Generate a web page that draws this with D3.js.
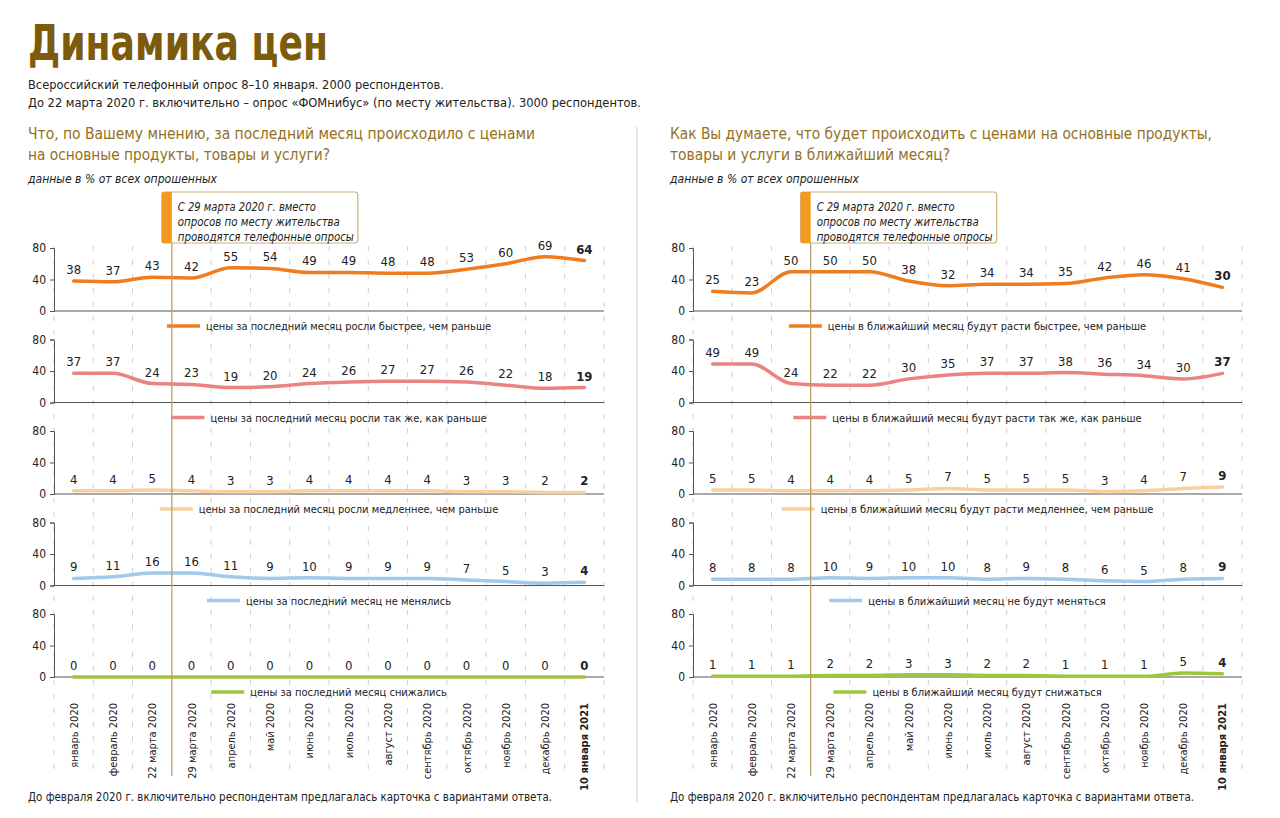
<!DOCTYPE html>
<meta charset="UTF-8">
<script src="https://cdnjs.cloudflare.com/ajax/libs/d3/7.4.4/d3.min.js"></script>
<style>
    body { margin: 0; background: #fff; }
    text { font-family: "DejaVu Sans Condensed", "Liberation Sans Narrow", sans-serif; }
</style>
<svg id="chart" width="1280" height="818"></svg>
<script>
    // данные
    let categories = ["январь 2020", "февраль 2020", "22 марта 2020", "29 марта 2020", "апрель 2020",
        "май 2020", "июнь 2020", "июль 2020", "август 2020", "сентябрь 2020", "октябрь 2020",
        "ноябрь 2020", "декабрь 2020", "10 января 2021"];

    let leftFaster    = [38, 37, 43, 42, 55, 54, 49, 49, 48, 48, 53, 60, 69, 64];
    let leftSame      = [37, 37, 24, 23, 19, 20, 24, 26, 27, 27, 26, 22, 18, 19];
    let leftSlower    = [4, 4, 5, 4, 3, 3, 4, 4, 4, 4, 3, 3, 2, 2];
    let leftUnchanged = [9, 11, 16, 16, 11, 9, 10, 9, 9, 9, 7, 5, 3, 4];
    let leftDown      = [0, 0, 0, 0, 0, 0, 0, 0, 0, 0, 0, 0, 0, 0];

    let rightFaster    = [25, 23, 50, 50, 50, 38, 32, 34, 34, 35, 42, 46, 41, 30];
    let rightSame      = [49, 49, 24, 22, 22, 30, 35, 37, 37, 38, 36, 34, 30, 37];
    let rightSlower    = [5, 5, 4, 4, 4, 5, 7, 5, 5, 5, 3, 4, 7, 9];
    let rightUnchanged = [8, 8, 8, 10, 9, 10, 10, 8, 9, 8, 6, 5, 8, 9];
    let rightDown      = [1, 1, 1, 2, 2, 3, 3, 2, 2, 1, 1, 1, 5, 4];

    let leftLabels = ["цены за последний месяц росли быстрее, чем раньше",
        "цены за последний месяц росли так же, как раньше",
        "цены за последний месяц росли медленнее, чем раньше",
        "цены за последний месяц не менялись",
        "цены за последний месяц снижались"];
    let rightLabels = ["цены в ближайший месяц будут расти быстрее, чем раньше",
        "цены в ближайший месяц будут расти так же, как раньше",
        "цены в ближайший месяц будут расти медленнее, чем раньше",
        "цены в ближайший месяц не будут меняться",
        "цены в ближайший месяц будут снижаться"];

    let yTicks = [0, 40, 80];
    let colors = ["#ef7d1f", "#ec8383", "#f9cf9f", "#9fcaee", "#9dc63c"];

    let svg = d3.select("svg");

    // заголовки
    svg.append("text").attr("x", 28).attr("y", 60)
        .attr("textLength", 300).attr("lengthAdjust", "spacingAndGlyphs")
        .style("font-size", "50px").style("font-weight", "bold").style("fill", "#7d5b0c")
        .text("Динамика цен");
    svg.append("text").attr("x", 28).attr("y", 89)
        .attr("textLength", 416).attr("lengthAdjust", "spacingAndGlyphs")
        .style("font-size", "13px").style("fill", "#222")
        .text("Всероссийский телефонный опрос 8–10 января. 2000 респондентов.");
    svg.append("text").attr("x", 28).attr("y", 107)
        .attr("textLength", 613).attr("lengthAdjust", "spacingAndGlyphs")
        .style("font-size", "13px").style("fill", "#222")
        .text("До 22 марта 2020 г. включительно – опрос «ФОМнибус» (по месту жительства). 3000 респондентов.");

    // разделитель панелей
    svg.append("line").attr("x1", 637).attr("x2", 637).attr("y1", 127).attr("y2", 802)
        .style("stroke", "#c8c8c8").style("stroke-width", 1);

    function drawPanel(p) {
        let g = svg.append("g");
        let q = g.append("text").style("font-size", "16px").style("fill", "#94701c");
        q.append("tspan").attr("x", p.left).attr("y", 139).attr("textLength", p.q1w)
            .attr("lengthAdjust", "spacingAndGlyphs").text(p.question[0]);
        q.append("tspan").attr("x", p.left).attr("y", 160).attr("textLength", p.q2w)
            .attr("lengthAdjust", "spacingAndGlyphs").text(p.question[1]);
        g.append("text").attr("x", p.left).attr("y", 183)
            .attr("textLength", 189).attr("lengthAdjust", "spacingAndGlyphs")
            .style("font-size", "13px").style("font-style", "italic").style("fill", "#222")
            .text("данные в % от всех опрошенных");

        let x = d3.scaleBand().domain(categories).range([p.x0, p.x1]);
        let bw = x.bandwidth();

        // пунктирные вертикали
        d3.range(categories.length + 1).forEach(function (i) {
            if (i === 3) return;
            g.append("line")
                .attr("x1", p.x0 + i * bw).attr("x2", p.x0 + i * bw)
                .attr("y1", 246).attr("y2", 776)
                .style("stroke", "#cfcfcf").style("stroke-width", 1)
                .style("stroke-dasharray", "5,9");
        });

        let divX = p.x0 + 3 * bw;

        p.series.forEach(function (data, k) {
            let zero = 311 + k * 91.5;
            let y = d3.scaleLinear().domain([0, 80]).range([zero, zero - 63]);

            g.append("g").attr("transform", "translate(" + p.x0 + ",0)")
                .call(d3.axisLeft(y).tickValues(yTicks).tickSize(4).tickPadding(4))
                .call(function (a) {
                    a.select(".domain").style("stroke", "#555");
                    a.selectAll(".tick line").style("stroke", "#555");
                    a.selectAll(".tick text").style("font-size", "12px").style("fill", "#222")
                        .style("font-family", "'DejaVu Sans Condensed', sans-serif");
                });
            g.append("line").attr("x1", p.x0).attr("x2", p.x1).attr("y1", zero).attr("y2", zero)
                .style("stroke", "#555").style("stroke-width", 1.2);

            let line = d3.line()
                .x(function (d, i) { return x(categories[i]) + bw / 2; })
                .y(function (d) { return y(d); })
                .curve(d3.curveMonotoneX);
            g.append("path").datum(data).attr("d", line)
                .style("fill", "none").style("stroke", colors[k])
                .style("stroke-width", 3.5).style("stroke-linecap", "round");

            g.selectAll(null).data(data).enter().append("text")
                .attr("x", function (d, i) { return x(categories[i]) + bw / 2; })
                .attr("y", function (d) { return y(d) - 7; })
                .style("text-anchor", "middle").style("font-size", "13px").style("fill", "#222")
                .style("font-weight", function (d, i) { return i === data.length - 1 ? "bold" : "normal"; })
                .text(function (d) { return d; });

            // легенда
            let lg = g.append("g");
            lg.append("line").attr("x1", 0).attr("x2", 33).attr("y1", 0).attr("y2", 0)
                .style("stroke", colors[k]).style("stroke-width", 3.5);
            let lt = lg.append("text").attr("x", 39).attr("y", 4)
                .style("font-size", "11px").style("fill", "#222").text(p.labels[k]);
            let w = 39 + lt.node().getComputedTextLength();
            lg.attr("transform", "translate(" + ((p.x0 + p.x1) / 2 - w / 2) + "," + (zero + 15) + ")");
        });

        // вертикаль 29 марта и выноска
        g.append("line").attr("x1", divX).attr("x2", divX).attr("y1", 243).attr("y2", 776)
            .style("stroke", "#b99e6c").style("stroke-width", 1.3);
        g.append("rect").attr("x", divX - 10).attr("y", 192).attr("width", 196).attr("height", 51)
            .attr("rx", 3).style("fill", "#fff").style("stroke", "#c9b27c").style("stroke-width", 1.2);
        g.append("rect").attr("x", divX - 10).attr("y", 192).attr("width", 10).attr("height", 51)
            .style("fill", "#f39a1e");
        let note = ["С 29 марта 2020 г. вместо", "опросов по месту жительства", "проводятся телефонные опросы"];
        let nw = [138, 162, 176];
        note.forEach(function (t, i) {
            g.append("text").attr("x", divX + 6).attr("y", 211 + i * 15)
                .attr("textLength", nw[i]).attr("lengthAdjust", "spacingAndGlyphs")
                .style("font-size", "12.5px").style("font-style", "italic").style("fill", "#222")
                .text(t);
        });

        // подписи оси X
        categories.forEach(function (c, i) {
            g.append("text")
                .attr("transform", "translate(" + (x(c) + bw / 2 + 4) + ",703) rotate(-90)")
                .style("text-anchor", "end").style("font-size", "11px").style("fill", "#222")
                .style("font-weight", i === categories.length - 1 ? "bold" : "normal")
                .text(c);
        });

        g.append("text").attr("x", p.left).attr("y", 801)
            .attr("textLength", 524).attr("lengthAdjust", "spacingAndGlyphs")
            .style("font-size", "13px").style("fill", "#222")
            .text("До февраля 2020 г. включительно респондентам предлагалась карточка с вариантами ответа.");
    }

    drawPanel({
        left: 28, x0: 54, x1: 604, q1w: 507, q2w: 302,
        question: ["Что, по Вашему мнению, за последний месяц происходило с ценами",
            "на основные продукты, товары и услуги?"],
        series: [leftFaster, leftSame, leftSlower, leftUnchanged, leftDown],
        labels: leftLabels
    });
    drawPanel({
        left: 670, x0: 693, x1: 1242, q1w: 542, q2w: 280,
        question: ["Как Вы думаете, что будет происходить с ценами  на основные продукты,",
            "товары и услуги в ближайший месяц?"],
        series: [rightFaster, rightSame, rightSlower, rightUnchanged, rightDown],
        labels: rightLabels
    });
</script>
